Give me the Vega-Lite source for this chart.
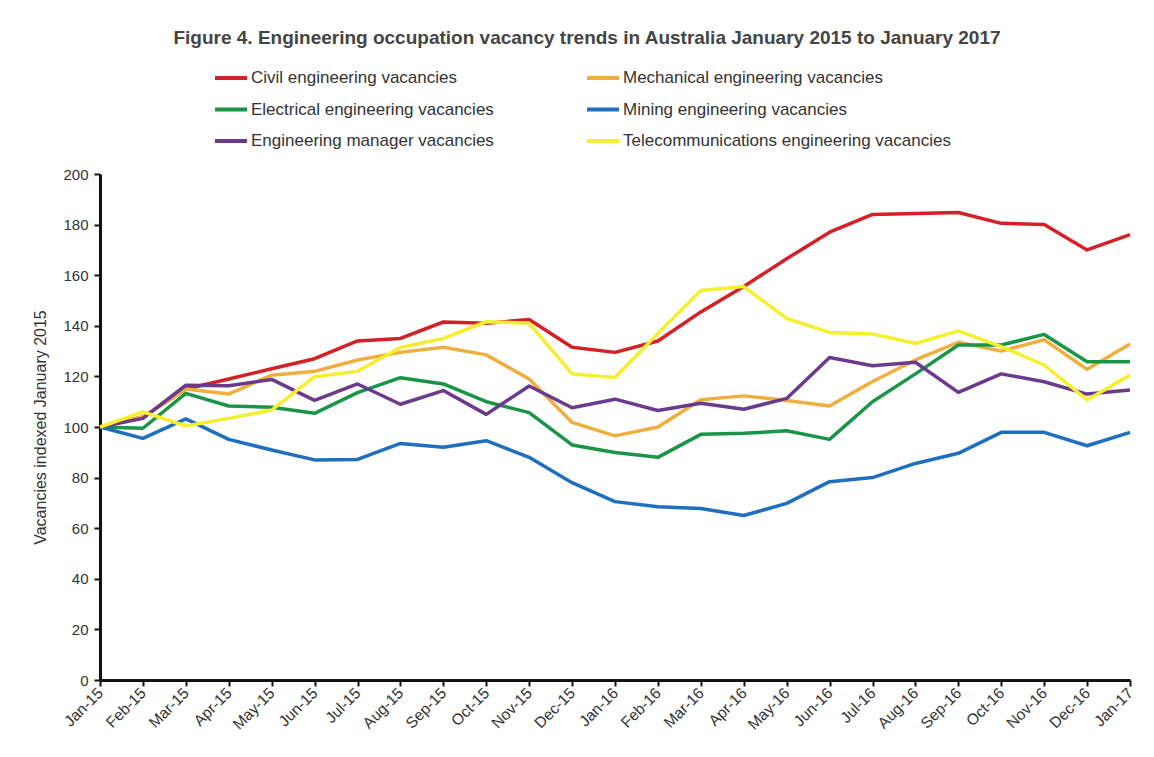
{
  "$schema": "https://vega.github.io/schema/vega-lite/v6.json",
  "width": 1030,
  "height": 506,
  "autosize": {"type": "none"},
  "padding": {"left": 100, "top": 174, "right": 24, "bottom": 77},
  "background": "white",
  "title": {
    "text": "Figure 4. Engineering occupation vacancy trends in Australia January 2015 to January 2017",
    "anchor": "middle",
    "dx": -28,
    "offset": 12,
    "font": "Liberation Sans Narrow, sans-serif",
    "fontSize": 19,
    "fontWeight": "bold",
    "color": "#444444"
  },
  "data": {"values": [
    {"m":"Jan-15","s":"Civil engineering vacancies","v":100},{"m":"Feb-15","s":"Civil engineering vacancies","v":104},{"m":"Mar-15","s":"Civil engineering vacancies","v":115},{"m":"Apr-15","s":"Civil engineering vacancies","v":119},{"m":"May-15","s":"Civil engineering vacancies","v":123},{"m":"Jun-15","s":"Civil engineering vacancies","v":127},{"m":"Jul-15","s":"Civil engineering vacancies","v":134},{"m":"Aug-15","s":"Civil engineering vacancies","v":135},{"m":"Sep-15","s":"Civil engineering vacancies","v":141.5},{"m":"Oct-15","s":"Civil engineering vacancies","v":141},{"m":"Nov-15","s":"Civil engineering vacancies","v":142.5},{"m":"Dec-15","s":"Civil engineering vacancies","v":131.5},{"m":"Jan-16","s":"Civil engineering vacancies","v":129.5},{"m":"Feb-16","s":"Civil engineering vacancies","v":134},{"m":"Mar-16","s":"Civil engineering vacancies","v":145.5},{"m":"Apr-16","s":"Civil engineering vacancies","v":155.5},{"m":"May-16","s":"Civil engineering vacancies","v":166.5},{"m":"Jun-16","s":"Civil engineering vacancies","v":177},{"m":"Jul-16","s":"Civil engineering vacancies","v":184},{"m":"Aug-16","s":"Civil engineering vacancies","v":184.4},{"m":"Sep-16","s":"Civil engineering vacancies","v":184.8},{"m":"Oct-16","s":"Civil engineering vacancies","v":180.5},{"m":"Nov-16","s":"Civil engineering vacancies","v":180},{"m":"Dec-16","s":"Civil engineering vacancies","v":170},{"m":"Jan-17","s":"Civil engineering vacancies","v":176},
    {"m":"Jan-15","s":"Mechanical engineering vacancies","v":100},{"m":"Feb-15","s":"Mechanical engineering vacancies","v":104},{"m":"Mar-15","s":"Mechanical engineering vacancies","v":115},{"m":"Apr-15","s":"Mechanical engineering vacancies","v":113},{"m":"May-15","s":"Mechanical engineering vacancies","v":120.5},{"m":"Jun-15","s":"Mechanical engineering vacancies","v":122},{"m":"Jul-15","s":"Mechanical engineering vacancies","v":126.5},{"m":"Aug-15","s":"Mechanical engineering vacancies","v":129.5},{"m":"Sep-15","s":"Mechanical engineering vacancies","v":131.5},{"m":"Oct-15","s":"Mechanical engineering vacancies","v":128.5},{"m":"Nov-15","s":"Mechanical engineering vacancies","v":119},{"m":"Dec-15","s":"Mechanical engineering vacancies","v":101.8},{"m":"Jan-16","s":"Mechanical engineering vacancies","v":96.5},{"m":"Feb-16","s":"Mechanical engineering vacancies","v":100},{"m":"Mar-16","s":"Mechanical engineering vacancies","v":110.8},{"m":"Apr-16","s":"Mechanical engineering vacancies","v":112.3},{"m":"May-16","s":"Mechanical engineering vacancies","v":110.5},{"m":"Jun-16","s":"Mechanical engineering vacancies","v":108.3},{"m":"Jul-16","s":"Mechanical engineering vacancies","v":118},{"m":"Aug-16","s":"Mechanical engineering vacancies","v":126.5},{"m":"Sep-16","s":"Mechanical engineering vacancies","v":133.5},{"m":"Oct-16","s":"Mechanical engineering vacancies","v":130},{"m":"Nov-16","s":"Mechanical engineering vacancies","v":134.5},{"m":"Dec-16","s":"Mechanical engineering vacancies","v":122.8},{"m":"Jan-17","s":"Mechanical engineering vacancies","v":132.8},
    {"m":"Jan-15","s":"Electrical engineering vacancies","v":100},{"m":"Feb-15","s":"Electrical engineering vacancies","v":99.5},{"m":"Mar-15","s":"Electrical engineering vacancies","v":113.3},{"m":"Apr-15","s":"Electrical engineering vacancies","v":108.3},{"m":"May-15","s":"Electrical engineering vacancies","v":107.8},{"m":"Jun-15","s":"Electrical engineering vacancies","v":105.4},{"m":"Jul-15","s":"Electrical engineering vacancies","v":113.6},{"m":"Aug-15","s":"Electrical engineering vacancies","v":119.5},{"m":"Sep-15","s":"Electrical engineering vacancies","v":117},{"m":"Oct-15","s":"Electrical engineering vacancies","v":110},{"m":"Nov-15","s":"Electrical engineering vacancies","v":105.7},{"m":"Dec-15","s":"Electrical engineering vacancies","v":92.9},{"m":"Jan-16","s":"Electrical engineering vacancies","v":89.9},{"m":"Feb-16","s":"Electrical engineering vacancies","v":88},{"m":"Mar-16","s":"Electrical engineering vacancies","v":97.1},{"m":"Apr-16","s":"Electrical engineering vacancies","v":97.5},{"m":"May-16","s":"Electrical engineering vacancies","v":98.5},{"m":"Jun-16","s":"Electrical engineering vacancies","v":95.1},{"m":"Jul-16","s":"Electrical engineering vacancies","v":110},{"m":"Aug-16","s":"Electrical engineering vacancies","v":121},{"m":"Sep-16","s":"Electrical engineering vacancies","v":132.4},{"m":"Oct-16","s":"Electrical engineering vacancies","v":132.4},{"m":"Nov-16","s":"Electrical engineering vacancies","v":136.6},{"m":"Dec-16","s":"Electrical engineering vacancies","v":125.8},{"m":"Jan-17","s":"Electrical engineering vacancies","v":125.8},
    {"m":"Jan-15","s":"Mining engineering vacancies","v":100},{"m":"Feb-15","s":"Mining engineering vacancies","v":95.5},{"m":"Mar-15","s":"Mining engineering vacancies","v":103.2},{"m":"Apr-15","s":"Mining engineering vacancies","v":95.1},{"m":"May-15","s":"Mining engineering vacancies","v":90.9},{"m":"Jun-15","s":"Mining engineering vacancies","v":87},{"m":"Jul-15","s":"Mining engineering vacancies","v":87.2},{"m":"Aug-15","s":"Mining engineering vacancies","v":93.5},{"m":"Sep-15","s":"Mining engineering vacancies","v":92},{"m":"Oct-15","s":"Mining engineering vacancies","v":94.6},{"m":"Nov-15","s":"Mining engineering vacancies","v":88},{"m":"Dec-15","s":"Mining engineering vacancies","v":78},{"m":"Jan-16","s":"Mining engineering vacancies","v":70.5},{"m":"Feb-16","s":"Mining engineering vacancies","v":68.5},{"m":"Mar-16","s":"Mining engineering vacancies","v":67.8},{"m":"Apr-16","s":"Mining engineering vacancies","v":65},{"m":"May-16","s":"Mining engineering vacancies","v":69.8},{"m":"Jun-16","s":"Mining engineering vacancies","v":78.4},{"m":"Jul-16","s":"Mining engineering vacancies","v":80},{"m":"Aug-16","s":"Mining engineering vacancies","v":85.6},{"m":"Sep-16","s":"Mining engineering vacancies","v":89.6},{"m":"Oct-16","s":"Mining engineering vacancies","v":97.9},{"m":"Nov-16","s":"Mining engineering vacancies","v":97.9},{"m":"Dec-16","s":"Mining engineering vacancies","v":92.6},{"m":"Jan-17","s":"Mining engineering vacancies","v":97.9},
    {"m":"Jan-15","s":"Engineering manager vacancies","v":100},{"m":"Feb-15","s":"Engineering manager vacancies","v":103.4},{"m":"Mar-15","s":"Engineering manager vacancies","v":116.5},{"m":"Apr-15","s":"Engineering manager vacancies","v":116.3},{"m":"May-15","s":"Engineering manager vacancies","v":118.8},{"m":"Jun-15","s":"Engineering manager vacancies","v":110.5},{"m":"Jul-15","s":"Engineering manager vacancies","v":117},{"m":"Aug-15","s":"Engineering manager vacancies","v":109},{"m":"Sep-15","s":"Engineering manager vacancies","v":114.4},{"m":"Oct-15","s":"Engineering manager vacancies","v":105},{"m":"Nov-15","s":"Engineering manager vacancies","v":116.2},{"m":"Dec-15","s":"Engineering manager vacancies","v":107.6},{"m":"Jan-16","s":"Engineering manager vacancies","v":111},{"m":"Feb-16","s":"Engineering manager vacancies","v":106.5},{"m":"Mar-16","s":"Engineering manager vacancies","v":109.4},{"m":"Apr-16","s":"Engineering manager vacancies","v":107},{"m":"May-16","s":"Engineering manager vacancies","v":111.3},{"m":"Jun-16","s":"Engineering manager vacancies","v":127.5},{"m":"Jul-16","s":"Engineering manager vacancies","v":124.2},{"m":"Aug-16","s":"Engineering manager vacancies","v":125.6},{"m":"Sep-16","s":"Engineering manager vacancies","v":113.7},{"m":"Oct-16","s":"Engineering manager vacancies","v":121},{"m":"Nov-16","s":"Engineering manager vacancies","v":117.9},{"m":"Dec-16","s":"Engineering manager vacancies","v":113},{"m":"Jan-17","s":"Engineering manager vacancies","v":114.6},
    {"m":"Jan-15","s":"Telecommunications engineering vacancies","v":100},{"m":"Feb-15","s":"Telecommunications engineering vacancies","v":106},{"m":"Mar-15","s":"Telecommunications engineering vacancies","v":100.4},{"m":"Apr-15","s":"Telecommunications engineering vacancies","v":103.4},{"m":"May-15","s":"Telecommunications engineering vacancies","v":106.7},{"m":"Jun-15","s":"Telecommunications engineering vacancies","v":119.9},{"m":"Jul-15","s":"Telecommunications engineering vacancies","v":122},{"m":"Aug-15","s":"Telecommunications engineering vacancies","v":131.4},{"m":"Sep-15","s":"Telecommunications engineering vacancies","v":135},{"m":"Oct-15","s":"Telecommunications engineering vacancies","v":141.6},{"m":"Nov-15","s":"Telecommunications engineering vacancies","v":141},{"m":"Dec-15","s":"Telecommunications engineering vacancies","v":121},{"m":"Jan-16","s":"Telecommunications engineering vacancies","v":119.6},{"m":"Feb-16","s":"Telecommunications engineering vacancies","v":137},{"m":"Mar-16","s":"Telecommunications engineering vacancies","v":154},{"m":"Apr-16","s":"Telecommunications engineering vacancies","v":155.5},{"m":"May-16","s":"Telecommunications engineering vacancies","v":142.9},{"m":"Jun-16","s":"Telecommunications engineering vacancies","v":137.4},{"m":"Jul-16","s":"Telecommunications engineering vacancies","v":136.8},{"m":"Aug-16","s":"Telecommunications engineering vacancies","v":133},{"m":"Sep-16","s":"Telecommunications engineering vacancies","v":138},{"m":"Oct-16","s":"Telecommunications engineering vacancies","v":131.8},{"m":"Nov-16","s":"Telecommunications engineering vacancies","v":124.5},{"m":"Dec-16","s":"Telecommunications engineering vacancies","v":110.7},{"m":"Jan-17","s":"Telecommunications engineering vacancies","v":120.5}
  ]},
  "mark": {"type": "line", "strokeWidth": 3.5, "strokeJoin": "round"},
  "encoding": {
    "x": {
      "field": "m", "type": "ordinal", "sort": null,
      "scale": {"type": "point", "padding": 0},
      "axis": {
        "title": null, "labelAngle": -45, "labelAlign": "right", "labelBaseline": "middle",
        "labelFont": "Liberation Sans Narrow, sans-serif", "labelFontSize": 15.5, "labelColor": "#333333",
        "domainColor": "#111111", "domainWidth": 3, "tickColor": "#111111", "tickWidth": 2, "tickSize": 6,
        "labelPadding": 4, "grid": false
      }
    },
    "y": {
      "field": "v", "type": "quantitative",
      "scale": {"domain": [0, 200], "nice": false},
      "axis": {
        "title": "Vacancies indexed January 2015", "values": [0,20,40,60,80,100,120,140,160,180,200],
        "titleFont": "Liberation Sans Narrow, sans-serif", "titleFontSize": 16, "titleFontWeight": "normal", "titleColor": "#333333",
        "titlePadding": 14,
        "labelFont": "Liberation Sans Narrow, sans-serif", "labelFontSize": 15, "labelColor": "#333333",
        "domainColor": "#111111", "domainWidth": 3, "tickColor": "#111111", "tickWidth": 2, "tickSize": 6,
        "labelPadding": 6, "grid": false
      }
    },
    "color": {
      "field": "s", "type": "nominal",
      "scale": {
        "domain": ["Civil engineering vacancies","Mechanical engineering vacancies","Electrical engineering vacancies","Mining engineering vacancies","Engineering manager vacancies","Telecommunications engineering vacancies"],
        "range": ["#d42027","#efae3e","#1a9447","#1f6fbf","#6b3a8c","#f6ef2e"]
      },
      "legend": {
        "title": null, "orient": "none", "legendX": 113, "legendY": -114, "direction": "horizontal", "columns": 2,
        "symbolType": "stroke", "symbolStrokeWidth": 4, "symbolSize": 1024, "labelOffset": 2,
        "labelFont": "Liberation Sans Narrow, sans-serif", "labelFontSize": 17, "labelColor": "#333333", "labelLimit": 400,
        "rowPadding": 5.5, "columnPadding": 85
      }
    }
  },
  "config": {"view": {"stroke": null}}
}
